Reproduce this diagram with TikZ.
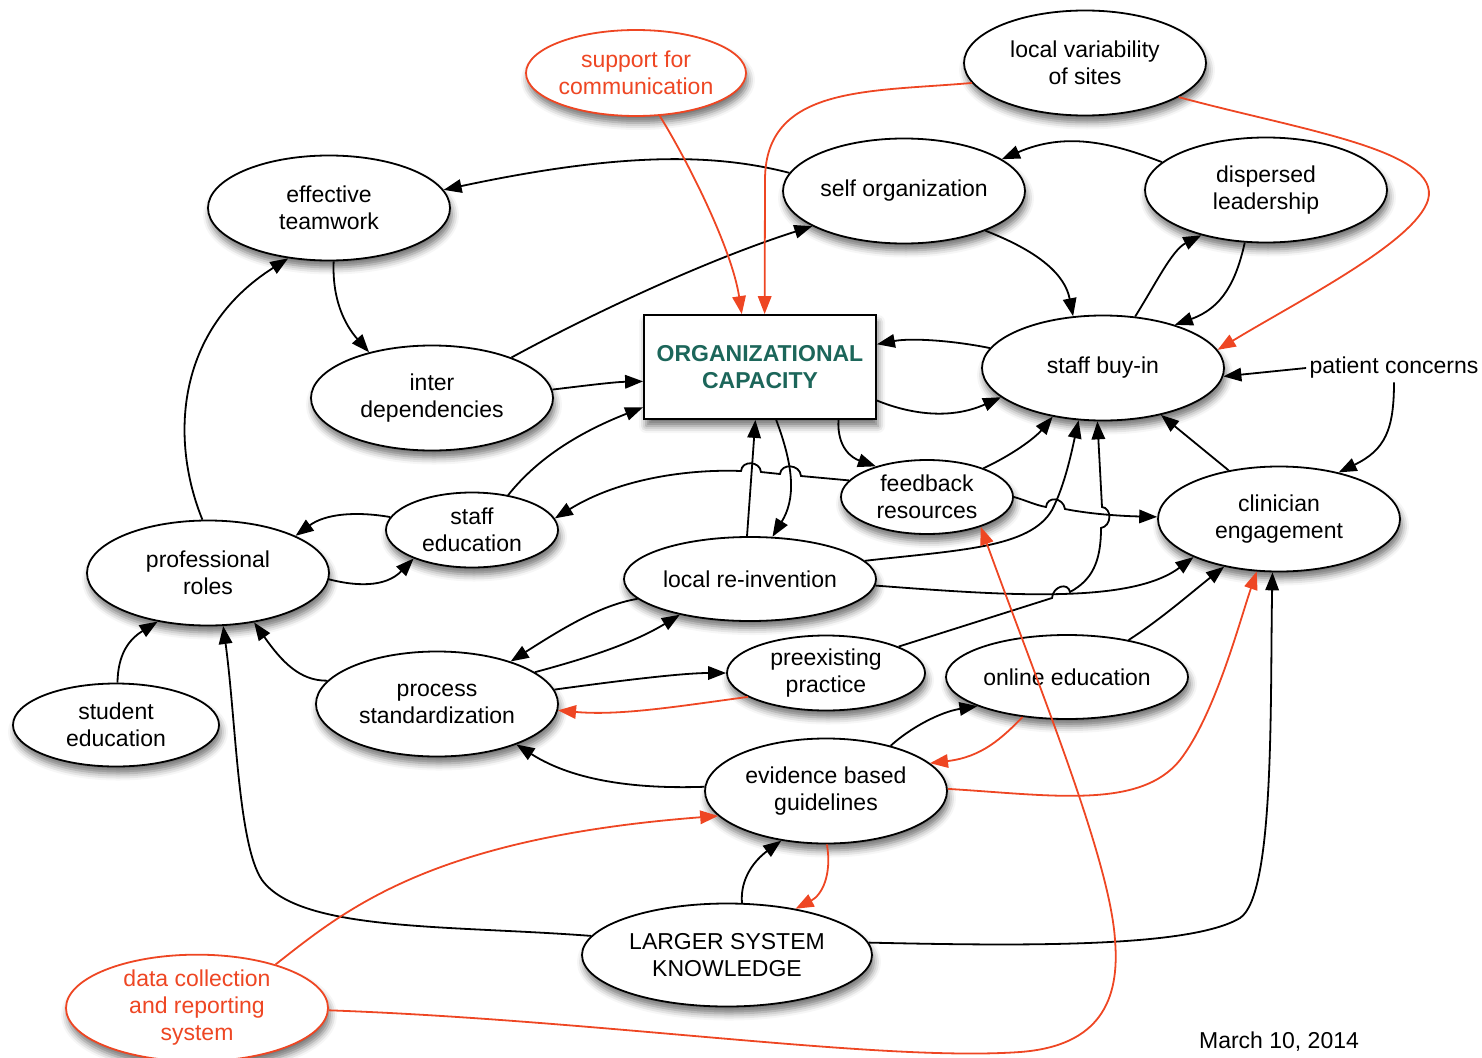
\documentclass[tikz,border=0pt]{standalone}
\usepackage{fontspec}
\setmainfont{Liberation Sans}
\usetikzlibrary{shapes.geometric,arrows.meta,shadows.blur}
\definecolor{cred}{RGB}{238,70,35}
\definecolor{cteal}{RGB}{28,102,90}
\newcommand{\myfs}{\fontsize{23}{27}\selectfont}
\begin{document}
\begin{tikzpicture}[x=1pt,y=-1pt,
  shad/.style={blur shadow={shadow xshift=2pt,shadow yshift=-7pt,shadow blur radius=7pt,shadow opacity=55}},
  ell/.style={ellipse,draw,line width=1.8pt,fill=white,inner sep=0pt,align=center,font=\myfs,shad},
  rell/.style={ell,draw=cred,text=cred},
  big/.style={minimum width=242pt,minimum height=105pt},
  conn/.style={line width=1.8pt,-{Triangle[length=18pt,width=13.5pt]}},
  rconn/.style={conn,draw=cred},
]
\useasboundingbox (0,0) rectangle (1482,1057);
% nodes
\node[ell,big] (lvs) at (1085,63) {local variability\\of sites};
\node[rell,minimum width=220pt,minimum height=86pt] (sfc) at (636,73) {support for\\communication};
\node[ell,big] (et) at (329,208) {effective\\teamwork};
\node[ell,big] (so) at (904,191) {self organization};
\node[ell,big] (dl) at (1266,190) {dispersed\\leadership};
\node[rectangle,draw,line width=1.8pt,fill=white,minimum width=232pt,minimum height=104pt,align=center,font=\myfs\bfseries,text=cteal,shad] (org) at (760,367) {ORGANIZATIONAL\\CAPACITY};
\node[ell,big] (id) at (432,398) {inter\\dependencies};
\node[ell,big] (sb) at (1103,368) {staff buy-in};
\node[font=\myfs] (pc) at (1394,368) {patient concerns};
\node[ell,minimum width=172pt,minimum height=74pt] (fr) at (927,497) {feedback\\resources};
\node[ell,big] (ce) at (1279,519) {clinician\\engagement};
\node[ell,minimum width=172pt,minimum height=75pt] (se) at (472,530) {staff\\education};
\node[ell,big] (pr) at (208,573) {professional\\roles};
\node[ell,minimum width=252pt,minimum height=84pt] (lr) at (750,579) {local re-invention};
\node[ell,minimum width=206pt,minimum height=83pt] (st) at (116,725) {student\\education};
\node[ell,big] (ps) at (437,704) {process\\standardization};
\node[ell,minimum width=198pt,minimum height=75pt] (pp) at (826,673) {preexisting\\practice};
\node[ell,minimum width=242pt,minimum height=84pt] (oe) at (1067,677) {online education};
\node[ell,big] (ebg) at (826,791) {evidence based\\guidelines};
\node[ell,minimum width=290pt,minimum height=103pt] (lsk) at (727,955) {LARGER SYSTEM\\KNOWLEDGE};
\node[rell,minimum width=262pt,minimum height=100pt] (dcr) at (197,1008) {data collection\\and reporting\\system};
\node[font=\myfs] (date) at (1279,1042) {March 10, 2014};
% black connectors
\draw[conn] (so.171) .. controls (720,155) and (630,150) .. (et.9);
\draw[conn] (dl.165) .. controls (1110,142) and (1065,132) .. (so.18);
\draw[conn] (so.-26) .. controls (1040,252) and (1065,275) .. (sb.120);
\draw[conn] (sb.58) .. controls (1155,285) and (1172,250) .. (dl.215);
\draw[conn] (dl.248) .. controls (1236,282) and (1222,308) .. (sb.31);
\draw[conn] (et.275) .. controls (332,300) and (345,325) .. (id.144);
\draw[conn] (id.27) .. controls (580,320) and (700,262) .. (so.201);
\draw[conn] (id.4) .. controls (590,385) and (615,382) .. (org.187);
\draw[conn] (se.44) .. controls (540,455) and (585,430) .. (org.199);
\draw[conn] (sb.170) .. controls (950,340) and (910,338) .. (org.11);
\draw[conn] (org.344) .. controls (910,414) and (950,420) .. (sb.196);
\draw[conn] (org.-34) .. controls (837,448) and (852,458) .. (fr.149);
\draw[conn] (fr.27) .. controls (1012,455) and (1035,438) .. (sb.224);
\draw[conn] (lr.9) .. controls (960,550) and (1030,548) .. (1052,510) .. controls (1065,485) and (1072,450) .. (sb.245);
\draw[conn] (pp.20) -- (1052,598) .. controls (1053,586) and (1068,582) .. (1070,592) .. controls (1092,580) and (1101,562) .. (1101,528) .. controls (1112,526) and (1112,508) .. (1102,507) -- (sb.264);
\draw[conn] (org.-73) .. controls (795,470) and (795,500) .. (lr.62);
\draw[conn] (lr.94) -- (org.265);
\draw[conn] (fr.168) -- (801,476) .. controls (800,464) and (781,463) .. (780,474) -- (761,472) .. controls (760,461) and (742,460) .. (741,471) .. controls (690,469) and (620,478) .. (se.8);
\draw[conn] (se.171) .. controls (355,511) and (325,514) .. (pr.23);
\draw[conn] (pr.-3) .. controls (355,586) and (385,588) .. (se.206);
\draw[conn] (pr.96) .. controls (170,440) and (175,330) .. (et.231);
\draw[conn] (st.88) .. controls (118,655) and (128,640) .. (pr.224);
\draw[conn] (ps.168) .. controls (300,681) and (282,662) .. (pr.313);
\draw[conn] (lsk.172) .. controls (450,925) and (300,932) .. (262,880) .. controls (238,845) and (236,720) .. (pr.286);
\draw[conn] (lr.190) .. controls (600,605) and (560,630) .. (ps.30);
\draw[conn] (ps.18) .. controls (580,660) and (630,645) .. (lr.207);
\draw[conn] (ps.7) .. controls (610,682) and (680,673) .. (pp.180);
\draw[conn] (ebg.178) .. controls (640,789) and (575,782) .. (ps.333);
\draw[conn] (ebg.35) .. controls (910,728) and (940,712) .. (oe.198);
\draw[conn] (oe.31) .. controls (1160,620) and (1192,592) .. (ce.221);
\draw[conn] (lr.-3) .. controls (1000,595) and (1130,605) .. (ce.204);
\draw[conn] (fr.0) .. controls (1025,500) and (1035,505) .. (1046,507) .. controls (1047,496) and (1063,497) .. (1065,509) .. controls (1090,514) and (1120,516) .. (ce.179);
\draw[conn] (ce.136) -- (sb.321);
\draw[conn] (pc.west) -- (sb.-4);
\draw[conn] (pc.south) .. controls (1394,430) and (1385,450) .. (ce.38);
\draw[conn] (lsk.74) .. controls (740,878) and (755,860) .. (ebg.228);
\draw[conn] (lsk.5) .. controls (1020,946) and (1190,948) .. (1240,918) .. controls (1275,895) and (1270,700) .. (ce.263);
% red connectors
\draw[rconn] (pp.197) .. controls (680,706) and (620,716) .. (ps.-3);
\draw[rconn] (oe.222) .. controls (1002,738) and (982,757) .. (ebg.15);
\draw[rconn] (ebg.271) .. controls (832,875) and (822,895) .. (lsk.34);
\draw[rconn] (ebg.1) .. controls (1050,795) and (1140,810) .. (1180,760) .. controls (1215,715) and (1240,620) .. (ce.247);
\draw[rconn] (sfc.299) .. controls (690,165) and (732,250) .. (org.109);
\draw[rconn] (lvs.190) .. controls (870,92) and (765,85) .. (765,180) -- (org.85);
\draw[rconn] (lvs.340) .. controls (1300,130) and (1442,150) .. (1428,200) .. controls (1415,242) and (1300,300) .. (sb.9);
\draw[rconn] (dcr.29) .. controls (345,910) and (430,838) .. (ebg.193);
\draw[rconn] (dcr.-1) .. controls (600,1020) and (880,1062) .. (1020,1052) .. controls (1100,1046) and (1120,1000) .. (1115,940) .. controls (1110,860) and (1040,690) .. (fr.331);
\end{tikzpicture}
\end{document}
